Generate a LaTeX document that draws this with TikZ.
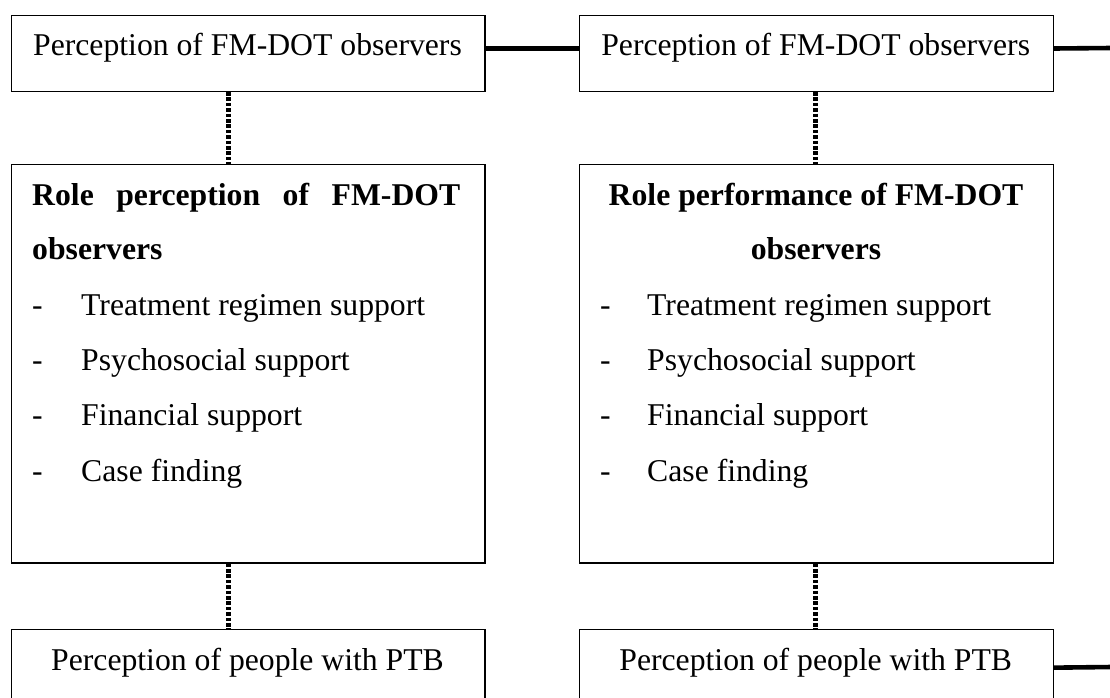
\documentclass[tikz,border=0pt]{standalone}
\usepackage{fontspec}
\setmainfont{Liberation Serif}
\begin{document}
\begin{tikzpicture}[x=1pt,y=-1pt,
  box/.style={draw, line width=1.3pt, inner sep=0pt, anchor=north west},
  thicklink/.style={line width=4.6pt},
  dotlink/.style={line width=4.4pt, dash pattern=on 3.6pt off 1.8pt},
  txt/.style={anchor=base west, inner sep=0pt, font=\fontsize{31.7}{38}\selectfont},
  ctxt/.style={anchor=base, inner sep=0pt, font=\fontsize{31.7}{38}\selectfont}]
\useasboundingbox (0,0) rectangle (1110,698);
\clip (0,0) rectangle (1110,698);
% boxes
\node[box, minimum width=473.6pt, minimum height=75.7pt] (tl) at (10.7,15) {};
\node[box, minimum width=474.2pt, minimum height=75.7pt] (tr) at (578.6,15) {};
\node[box, minimum width=473.6pt, minimum height=398.3pt] (ml) at (10.7,164) {};
\node[box, minimum width=474.2pt, minimum height=398.3pt] (mr) at (578.6,164) {};
\node[box, minimum width=473.6pt, minimum height=76pt] (bl) at (10.7,629) {};
\node[box, minimum width=474.2pt, minimum height=76pt] (br) at (578.6,629) {};
% connectors
\coordinate (rtop) at (1112,48);
\coordinate (rbot) at (1112,667);
\draw[thicklink] ([yshift=5pt]tl.east) -- ([yshift=5pt]tr.west);
\draw[thicklink] ([yshift=5pt]tr.east) -- (rtop);
\draw[thicklink] (br.east) -- (rbot);
\draw[dotlink] ([xshift=-19.5pt]tl.south) -- ([xshift=-19.5pt]ml.north);
\draw[dotlink] ([xshift=-19.5pt]ml.south) -- ([xshift=-19.5pt]bl.north);
\draw[dotlink] ([xshift=-0.7pt]tr.south) -- ([xshift=-0.7pt]mr.north);
\draw[dotlink] ([xshift=-0.7pt]mr.south) -- ([xshift=-0.7pt]br.north);
% top and bottom texts
\node[ctxt] (ttl) at (247.5,56) {Perception of FM-DOT observers};
\node[ctxt] (ttr) at (815.7,56) {Perception of FM-DOT observers};
\node[ctxt] (tbl) at (247.5,670) {Perception of people with PTB};
\node[ctxt] (tbr) at (815.7,670) {Perception of people with PTB};
% middle left
\node[txt] (l1) at (32,205) {\makebox[428pt][s]{\bfseries Role perception of FM-DOT}};
\node[txt] (l2) at (32,259) {\bfseries observers};
\node[txt] (ld1) at (32,315) {-};
\node[txt] (ld2) at (32,370) {-};
\node[txt] (ld3) at (32,425) {-};
\node[txt] (ld4) at (32,481) {-};
\node[txt] (li1) at (81,315) {Treatment regimen support};
\node[txt] (li2) at (81,370) {Psychosocial support};
\node[txt] (li3) at (81,425) {Financial support};
\node[txt] (li4) at (81,481) {Case finding};
% middle right
\node[ctxt] (r1) at (816,205) {\bfseries Role performance of FM-DOT};
\node[ctxt] (r2) at (816,259) {\bfseries observers};
\node[txt] (rd1) at (600,315) {-};
\node[txt] (rd2) at (600,370) {-};
\node[txt] (rd3) at (600,425) {-};
\node[txt] (rd4) at (600,481) {-};
\node[txt] (ri1) at (647,315) {Treatment regimen support};
\node[txt] (ri2) at (647,370) {Psychosocial support};
\node[txt] (ri3) at (647,425) {Financial support};
\node[txt] (ri4) at (647,481) {Case finding};
\end{tikzpicture}
\end{document}
